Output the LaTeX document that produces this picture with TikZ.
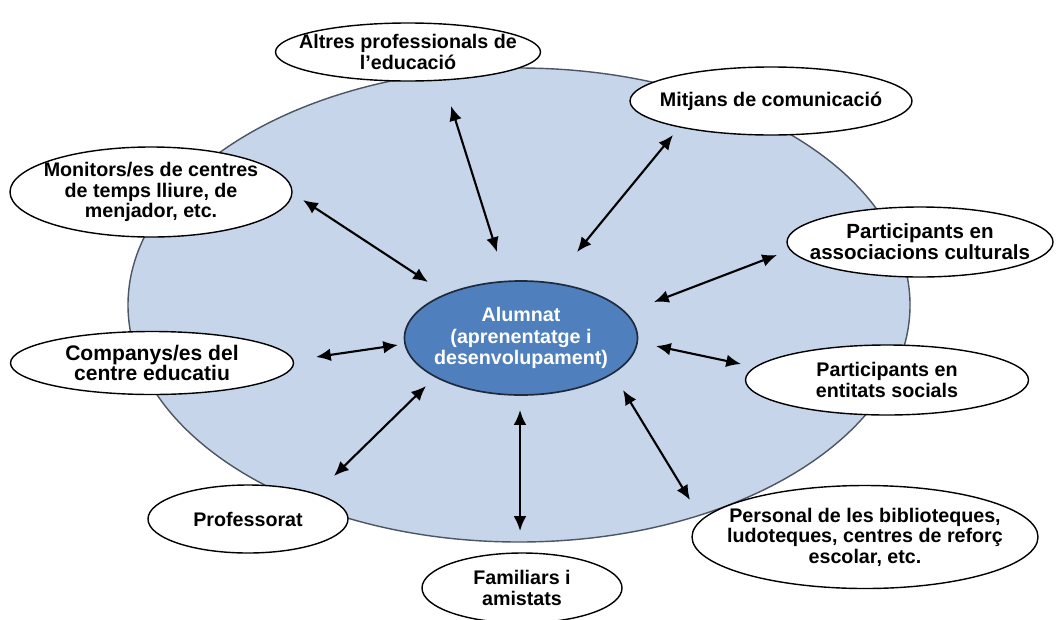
\documentclass[tikz,border=0pt]{standalone}
\usepackage{fontspec}
\setmainfont{Liberation Sans}
\usetikzlibrary{shapes.geometric,arrows.meta}
\definecolor{fonsblau}{HTML}{C6D5EA}
\definecolor{nucli}{HTML}{4F7FBC}
\definecolor{vora}{HTML}{1F2A3C}
\begin{document}
\begin{tikzpicture}[x=0.025cm,y=-0.025cm,
  dims/.style 2 args={minimum width=#1*0.025cm, minimum height=#2*0.025cm},
  agent/.style={ellipse, draw=black, line width=1pt, fill=white, inner sep=0pt},
  rotul/.style={align=center, inner sep=0pt, font=\fontsize{14}{14.5}\selectfont\bfseries},
  rel/.style={{Latex[length=10.5pt,width=9pt]}-{Latex[length=10.5pt,width=9pt]}, line width=1.5pt}]
\useasboundingbox (0,0) rectangle (1056,619);
% fons i nucli
\node[ellipse, draw=vora!80, line width=1pt, fill=fonsblau, dims={782}{474}] (entorn) at (519,305){};
\node[ellipse, draw=vora, line width=1.2pt, fill=nucli, inner sep=0pt, dims={233}{114},
  label={[rotul, text=white, font=\fontsize{14}{15.4}\selectfont\bfseries]center:Alumnat\\(aprenentatge i\\desenvolupament)}] (alumnat) at (521,338){};
% agents
\node[agent, dims={265}{58}, label={[rotul]center:Altres professionals de\\l’educació}] (altres) at (408,52){};
\node[agent, dims={282}{68}, label={[rotul]center:Mitjans de comunicació}] (mitjans) at (771,101){};
\node[agent, dims={282}{90}, label={[rotul]center:Monitors/es de centres\\de temps lliure, de\\menjador, etc.}] (monitors) at (151,192){};
\node[agent, dims={266}{70}, label={[rotul, font=\fontsize{14.6}{15}\selectfont\bfseries]center:Participants en\\associacions culturals}] (assoc) at (920,242){};
\node[agent, dims={283}{63}, label={[rotul, font=\fontsize{15}{14.5}\selectfont\bfseries]center:Companys/es del\\centre educatiu}] (companys) at (152,363){};
\node[agent, dims={283}{70}, label={[rotul]center:Participants en\\entitats socials}] (entitats) at (887,380){};
\node[agent, dims={200}{68}, label={[rotul]center:Professorat}] (prof) at (248,519){};
\node[agent, dims={200}{70}, label={[rotul]center:Familiars i\\amistats}] (familiars) at (522,588){};
\node[agent, dims={346}{103}, label={[rotul]center:Personal de les biblioteques,\\ludoteques, centres de reforç\\escolar, etc.}] (personal) at (865,537){};
% extrems de les fletxes
\coordinate (monA) at (303,200); \coordinate (monB) at (428,282);
\coordinate (altA) at (451,106); \coordinate (altB) at (497,252);
\coordinate (mitA) at (673,135); \coordinate (mitB) at (577,252);
\coordinate (assA) at (777,255); \coordinate (assB) at (654,302);
\coordinate (comA) at (316,357); \coordinate (comB) at (398,345);
\coordinate (entA) at (741,364); \coordinate (entB) at (656,346);
\coordinate (proA) at (334,476); \coordinate (proB) at (426,386);
\coordinate (famA) at (520,531); \coordinate (famB) at (520,410);
\coordinate (perA) at (690,500); \coordinate (perB) at (623,390);
\draw[rel] (monA) -- (monB);
\draw[rel] (altA) -- (altB);
\draw[rel] (mitA) -- (mitB);
\draw[rel] (assA) -- (assB);
\draw[rel] (comA) -- (comB);
\draw[rel] (entA) -- (entB);
\draw[rel] (proA) -- (proB);
\draw[rel] (famA) -- (famB);
\draw[rel] (perA) -- (perB);
\end{tikzpicture}
\end{document}
